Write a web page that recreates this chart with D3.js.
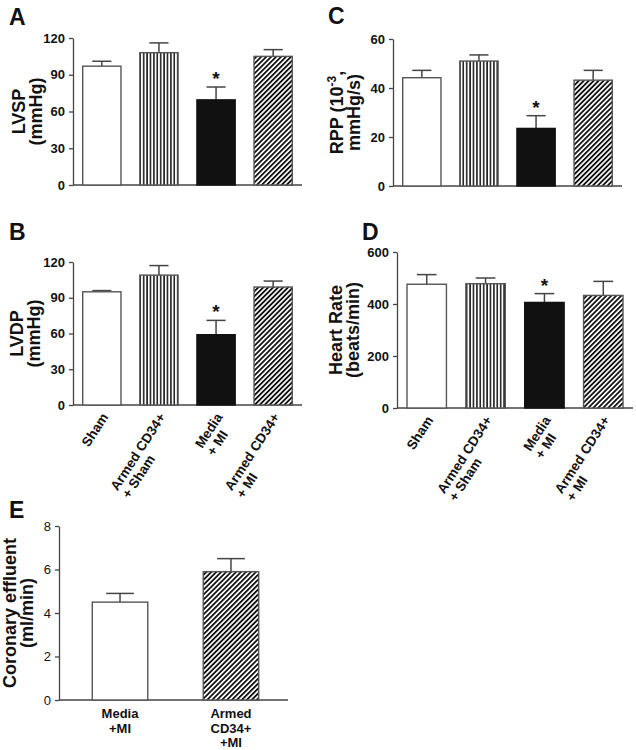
<!DOCTYPE html>
<html>
<head>
<meta charset="utf-8">
<style>
  body { margin: 0; background: white; }
  svg { display: block; }
  text { font-family: "Liberation Sans", Arial, sans-serif; fill: #111; }
  .tick text { font-weight: bold; font-size: 13px; }
  .plain .tick text { font-weight: normal; font-size: 13px; }
  .domain, .tick line { stroke: #444; stroke-width: 1.3; }
</style>
<script src="https://cdn.jsdelivr.net/npm/d3@7"></script>
</head>
<body>
<div id="chart"></div>
<script>
// groups on the x axis of panels A-D (each entry is the label lines)
var groups = [["Sham"], ["Armed CD34+", "+ Sham"], ["Media", "+ MI"], ["Armed CD34+", "+ MI"]];
var groupFill = ["white", "vert", "black", "diag"];
var starred = [false, false, true, false];

var lvsp = [97, 108, 69.5, 105];
var lvspSem = [4, 8, 10.5, 5.5];
var rpp = [44.2, 51, 23.5, 43.2];
var rppSem = [3, 2.5, 5.2, 4];
var lvdp = [95, 109, 59, 99];
var lvdpSem = [1, 8, 12, 5];
var heartRate = [476, 478, 406, 433];
var heartRateSem = [37, 22, 34, 54];

// panel E
var groupsE = [["Media", "+MI"], ["Armed", "CD34+", "+MI"]];
var groupFillE = ["white", "diag"];
var coronary = [4.5, 5.9];
var coronarySem = [0.4, 0.6];

var svg = d3.select('#chart').append('svg')
    .attr('width', 636)
    .attr('height', 750);

var defs = svg.append('defs');
function hatch(id, w, rot, sw) {
  var pat = defs.append('pattern')
      .attr('id', id)
      .attr('patternUnits', 'userSpaceOnUse')
      .attr('width', w).attr('height', 10);
  if (rot) pat.attr('patternTransform', 'rotate(' + rot + ')');
  pat.append('rect').attr('width', w).attr('height', 10).attr('fill', 'white');
  pat.append('line').attr('x1', 0.9).attr('x2', 0.9).attr('y1', 0).attr('y2', 10)
      .attr('stroke', '#111').attr('stroke-width', sw);
}
hatch('vert', 3.4, 0, 1.5);
hatch('diag', 3.5, 45, 1.8);

function fillFor(f) {
  if (f == 'vert') return 'url(#vert)';
  if (f == 'diag') return 'url(#diag)';
  if (f == 'black') return '#111';
  return 'white';
}

function panel(p) {
  var g = svg.append('g');

  var x = d3.scaleBand()
      .domain(d3.range(p.values.length))
      .range([p.x0, p.bandEnd])
      .paddingInner(p.padIn)
      .paddingOuter(p.padOut);
  var y = d3.scaleLinear()
      .domain(p.domain)
      .range([p.yBottom, p.yTop]);

  // y axis
  g.append('g')
      .attr('class', p.plain ? 'plain' : '')
      .attr('transform', 'translate(' + p.x0 + ',0)')
      .call(d3.axisLeft(y).tickValues(p.ticks).tickSize(4).tickPadding(4).tickSizeOuter(0));

  // x axis line
  g.append('line')
      .attr('x1', p.x0).attr('x2', p.x1)
      .attr('y1', y(0)).attr('y2', y(0))
      .attr('stroke', '#444').attr('stroke-width', 1.3);

  // error bars (upper only)
  p.values.forEach(function(v, i) {
    var cx = x(i) + x.bandwidth() / 2;
    var top = y(v + p.sem[i]);
    g.append('line')
        .attr('x1', cx).attr('x2', cx)
        .attr('y1', y(v)).attr('y2', top)
        .attr('stroke', '#444').attr('stroke-width', 1.5);
    g.append('line')
        .attr('x1', cx - x.bandwidth() / 4).attr('x2', cx + x.bandwidth() / 4)
        .attr('y1', top).attr('y2', top)
        .attr('stroke', '#444').attr('stroke-width', 1.5);
    if (p.stars && p.stars[i]) {
      g.append('text')
          .attr('x', cx).attr('y', top - 2)
          .attr('text-anchor', 'middle')
          .style('font-size', '19px').style('font-weight', 'bold')
          .text('*');
    }
  });

  // bars
  g.selectAll('rect.bar')
      .data(p.values)
    .enter().append('rect')
      .attr('class', 'bar')
      .attr('x', function(d, i) { return x(i); })
      .attr('y', function(d) { return y(d); })
      .attr('width', x.bandwidth())
      .attr('height', function(d) { return y(0) - y(d); })
      .attr('fill', function(d, i) { return fillFor(p.fills[i]); })
      .attr('stroke', function(d, i) { return p.fills[i] == 'black' ? '#111' : '#555'; })
      .attr('stroke-width', 1.4);

  // panel letter
  g.append('text')
      .attr('x', p.letterX).attr('y', p.letterY)
      .style('font-size', '23px').style('font-weight', 'bold')
      .text(p.letter);

  // y label (two lines, rotated)
  var ymid = (p.yTop + p.yBottom) / 2;
  p.ylabel.forEach(function(line, k) {
    var t = g.append('text')
        .attr('transform', 'translate(' + (p.ylabelX + k * 17) + ',' + ymid + ') rotate(-90)')
        .attr('text-anchor', 'middle')
        .style('font-size', '18px').style('font-weight', 'bold');
    if (Array.isArray(line)) {
      t.append('tspan').text(line[0]);
      t.append('tspan').attr('dy', -7).style('font-size', '12px').text(line[1]);
      t.append('tspan').attr('dy', 7).text(line[2]);
    } else {
      t.text(line);
    }
  });

  // x labels
  if (!p.groups) return;
  if (p.rotate) {
    p.groups.forEach(function(lines, i) {
      var cx = x(i) + x.bandwidth() / 2;
      var lg = g.append('g')
          .attr('transform', 'translate(' + (cx + 7) + ',' + (y(0) + 12) + ') rotate(-57)');
      var first = lg.append('text')
          .attr('text-anchor', 'end')
          .style('font-size', '13.5px').style('font-weight', 'bold')
          .text(lines[0]);
      var len = first.node().getComputedTextLength();
      lines.slice(1).forEach(function(line, k) {
        lg.append('text')
            .attr('x', -len)
            .attr('y', (k + 1) * 14)
            .style('font-size', '13.5px').style('font-weight', 'bold')
            .text(line);
      });
    });
  } else {
    p.groups.forEach(function(lines, i) {
      var cx = x(i) + x.bandwidth() / 2;
      lines.forEach(function(line, k) {
        g.append('text')
            .attr('x', cx).attr('y', y(0) + 18 + k * 14.5)
            .attr('text-anchor', 'middle')
            .style('font-size', '13px').style('font-weight', 'bold')
            .text(line);
      });
    });
  }
}

panel({ letter: 'A', letterX: 9, letterY: 25, values: lvsp, sem: lvspSem, groups: null,
  fills: groupFill, stars: starred, domain: [0, 120], ticks: [0, 30, 60, 90, 120],
  x0: 73, x1: 302, bandEnd: 302, padIn: 0.33, padOut: 0.17, yTop: 38, yBottom: 185,
  ylabel: ['LVSP', '(mmHg)'], ylabelX: 25 });

panel({ letter: 'C', letterX: 328, letterY: 24, values: rpp, sem: rppSem, groups: null,
  fills: groupFill, stars: starred, domain: [0, 60], ticks: [0, 20, 40, 60],
  x0: 393, x1: 622, bandEnd: 622, padIn: 0.33, padOut: 0.17, yTop: 39, yBottom: 186,
  ylabel: [['RPP (10', '-3', ','], 'mmHg/s)'], ylabelX: 343 });

panel({ letter: 'B', letterX: 9, letterY: 240, values: lvdp, sem: lvdpSem, groups: groups,
  fills: groupFill, stars: starred, domain: [0, 120], ticks: [0, 30, 60, 90, 120],
  x0: 73, x1: 302, bandEnd: 302, padIn: 0.33, padOut: 0.17, yTop: 262, yBottom: 405,
  ylabel: ['LVDP', '(mmHg)'], ylabelX: 23, rotate: true });

panel({ letter: 'D', letterX: 362, letterY: 240, values: heartRate, sem: heartRateSem, groups: groups,
  fills: groupFill, stars: starred, domain: [0, 600], ticks: [0, 200, 400, 600],
  x0: 397, x1: 633, bandEnd: 633, padIn: 0.33, padOut: 0.17, yTop: 252, yBottom: 408,
  ylabel: ['Heart Rate', '(beats/min)'], ylabelX: 342, rotate: true });

panel({ letter: 'E', letterX: 9, letterY: 518, values: coronary, sem: coronarySem, groups: groupsE,
  fills: groupFillE, stars: null, domain: [0, 8], ticks: [0, 2, 4, 6, 8],
  x0: 59, x1: 288, bandEnd: 292, padIn: 0.5, padOut: 0.3, yTop: 526, yBottom: 700,
  ylabel: ['Coronary effluent', '(ml/min)'], ylabelX: 16, plain: true });
</script>
</body>
</html>
